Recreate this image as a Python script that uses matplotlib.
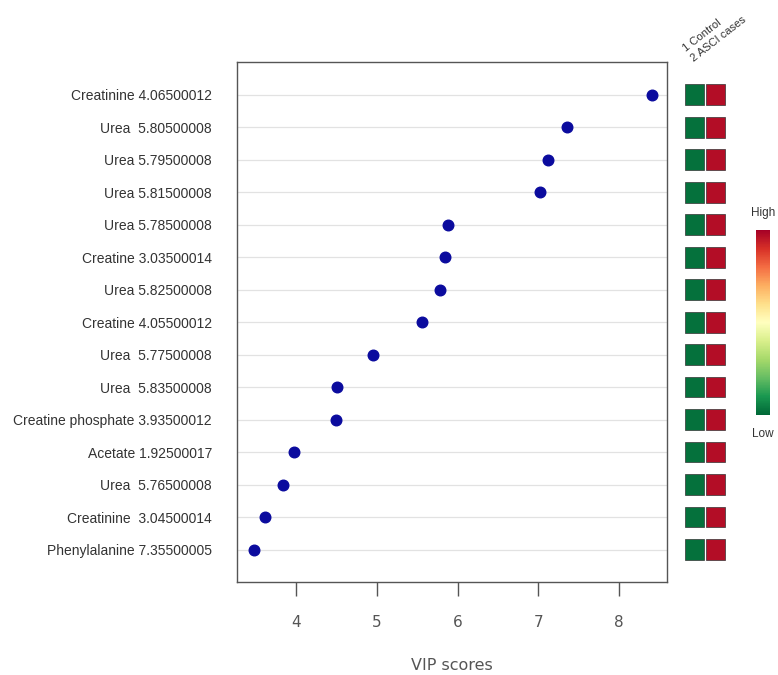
import numpy as np
import matplotlib.pyplot as plt
from matplotlib import cm, colors

features = [
    "Creatinine 4.06500012",
    "Urea  5.80500008",
    "Urea 5.79500008",
    "Urea 5.81500008",
    "Urea 5.78500008",
    "Creatine 3.03500014",
    "Urea 5.82500008",
    "Creatine 4.05500012",
    "Urea  5.77500008",
    "Urea  5.83500008",
    "Creatine phosphate 3.93500012",
    "Acetate 1.92500017",
    "Urea  5.76500008",
    "Creatinine  3.04500014",
    "Phenylalanine 7.35500005",
]
vip = [8.41, 7.35, 7.12, 7.02, 5.88, 5.84, 5.78, 5.56, 4.95, 4.51, 4.50, 3.98, 3.84, 3.62, 3.48]

groups = ["1 Control", "2 ASCI cases"]
# relative concentration per group (0 = low, 1 = high)
level_control = [0.02] * 15
level_case = [0.97] * 15

cmap = plt.get_cmap("RdYlGn_r")
fig = plt.figure(figsize=(7.78, 6.75), dpi=100)

ax = fig.add_axes([0.3046, 0.1378, 0.5527, 0.770])
n = len(features)
ypos = np.arange(n, 0, -1)
ax.scatter(vip, ypos, s=58, color="#0b0b9e", zorder=3)
for y in ypos:
    ax.axhline(y, color="#e2e2e2", lw=0.9, zorder=1)
ax.set_xlim(3.27, 8.59)
ax.set_ylim(0, n + 1)
ax.set_yticks(ypos)
ax.set_yticklabels(features, fontsize=10, color="#333333", family="Liberation Sans")
ax.tick_params(axis="y", length=0, pad=18)
ax.set_xticks([4, 5, 6, 7, 8])
ax.tick_params(axis="x", length=10, width=1, color="#555555", labelsize=11,
               labelcolor="#555555", pad=14)
ax.set_xlabel("VIP scores", fontsize=11.5, color="#555555", labelpad=20)
for s in ax.spines.values():
    s.set_color("#555555")
    s.set_linewidth(1)

# group heat squares beside each feature
hx = fig.add_axes([684 / 778, 0.1378, 42 / 778, 0.770])
norm = colors.Normalize(0, 1)
for y, c0, c1 in zip(ypos, level_control, level_case):
    hx.bar([0, 1], 0.64, width=0.94, bottom=y - 0.32,
           color=[cmap(norm(c0)), cmap(norm(c1))], edgecolor="#333333", lw=0.5)
hx.set_xlim(-0.5, 1.5)
hx.set_ylim(0, n + 1)
hx.axis("off")
hx.text(0.05, n + 0.95, "\n".join(groups), rotation=38, fontsize=8, color="#333333",
        ha="left", va="bottom", rotation_mode="anchor", linespacing=1.35,
        family="Liberation Sans")

# colour key
cx = fig.add_axes([756 / 778, 1 - 415 / 675, 14 / 778, 185 / 675])
cb = fig.colorbar(cm.ScalarMappable(norm=norm, cmap=cmap), cax=cx)
cb.set_ticks([])
cb.outline.set_visible(False)
fig.text(763 / 778, 1 - 213 / 675, "High", ha="center", va="center", fontsize=8.5,
         color="#333333", family="Liberation Sans")
fig.text(763 / 778, 1 - 434 / 675, "Low", ha="center", va="center", fontsize=8.5,
         color="#333333", family="Liberation Sans")

plt.savefig("out.png", dpi=100)
